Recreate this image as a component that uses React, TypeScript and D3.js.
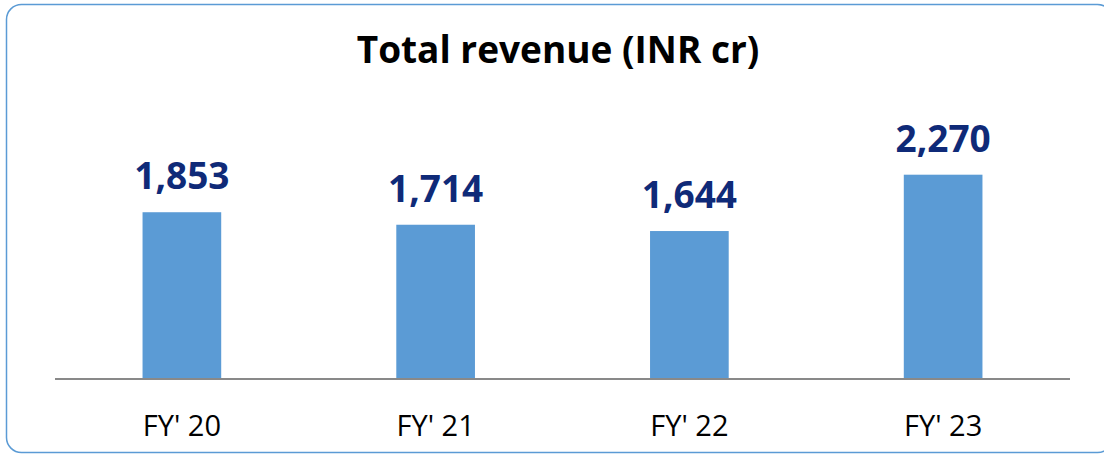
import React, { useEffect, useRef } from "react"
import * as d3 from "d3"

const categories = ["FY' 20", "FY' 21", "FY' 22", "FY' 23"]
const revenue = [1853, 1714, 1644, 2270]
const title = "Total revenue (INR cr)"

const W = 1104
const H = 454

export default function App() {
  const ref = useRef<SVGSVGElement>(null)

  useEffect(() => {
    const svg = d3.select(ref.current)
    svg.selectAll("*").remove()

    const font = "'Open Sans', 'Noto Sans', sans-serif"
    const baseY = 379

    // panel outline
    svg.append("rect")
      .attr("x", 6.5)
      .attr("y", 4.5)
      .attr("width", 1106)
      .attr("height", 448)
      .attr("rx", 15)
      .attr("fill", "#fff")
      .attr("stroke", "#5B9BD5")
      .attr("stroke-width", 1.5)

    svg.append("text")
      .attr("x", 558)
      .attr("y", 63)
      .attr("text-anchor", "middle")
      .attr("font-family", font)
      .attr("font-weight", 700)
      .attr("font-size", 37)
      .attr("fill", "#000")
      .text(title)

    let x = d3.scaleBand()
      .domain(categories)
      .range([55, 1070])
      .paddingInner(0.69)
      .paddingOuter(0.345)

    let y = d3.scaleLinear()
      .domain([0, 2500])
      .range([baseY, baseY - 225])

    let bars = svg.append("g")

    bars.selectAll("rect")
      .data(revenue)
      .enter()
      .append("rect")
      .attr("x", (d, i) => x(categories[i])!)
      .attr("y", d => y(d))
      .attr("width", x.bandwidth())
      .attr("height", d => baseY - y(d))
      .attr("fill", "#5B9BD5")

    bars.selectAll("text.val")
      .data(revenue)
      .enter()
      .append("text")
      .attr("class", "val")
      .attr("x", (d, i) => x(categories[i])! + x.bandwidth() / 2)
      .attr("y", d => y(d) - 23)
      .attr("text-anchor", "middle")
      .attr("font-family", font)
      .attr("font-weight", 700)
      .attr("font-size", 37)
      .attr("fill", "#0F2A78")
      .text(d => d3.format(",")(d))

    // axis line
    svg.append("line")
      .attr("x1", 55)
      .attr("x2", 1070)
      .attr("y1", baseY)
      .attr("y2", baseY)
      .attr("stroke", "#898989")
      .attr("stroke-width", 2)

    svg.append("g")
      .selectAll("text")
      .data(categories)
      .enter()
      .append("text")
      .attr("x", d => x(d)! + x.bandwidth() / 2)
      .attr("y", 436)
      .attr("text-anchor", "middle")
      .attr("font-family", font)
      .attr("font-size", 29)
      .attr("fill", "#000")
      .text(d => d)
  }, [])

  return (
    <svg ref={ref} width={W} height={H}
      style={{ position: "absolute", left: 0, top: 0, display: "block" }} />
  )
}
